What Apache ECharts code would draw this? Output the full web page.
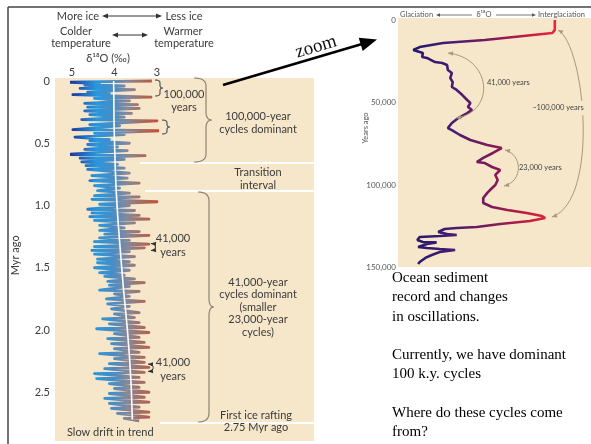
<!DOCTYPE html>
<html><head><meta charset="utf-8">
<script src="https://cdn.jsdelivr.net/npm/echarts@6/dist/echarts.min.js"></script>
<style>html,body{margin:0;padding:0;background:#fff}#c{width:591px;height:444px}</style>
</head><body><div id="c"></div>
<script>
// ---- Left panel: benthic δ18O record (Myr ago vs ‰) ----
const ageMyr = [0.00,0.01,0.02,0.03,0.04,0.06,0.07,0.09,0.10,0.11,0.13,0.14,0.16,0.18,0.19,0.21,0.22,0.24,0.26,0.27,0.29,0.31,0.32,0.35,0.36,0.39,0.40,0.42,0.43,0.45,0.47,0.48,0.50,0.51,0.53,0.55,0.56,0.59,0.60,0.62,0.63,0.65,0.67,0.68,0.70,0.71,0.74,0.76,0.78,0.80,0.82,0.84,0.86,0.88,0.90,0.92,0.93,0.95,0.97,0.99,1.00,1.03,1.04,1.06,1.08,1.09,1.11,1.12,1.14,1.16,1.18,1.20,1.21,1.23,1.24,1.26,1.28,1.29,1.31,1.33,1.34,1.36,1.37,1.39,1.41,1.43,1.45,1.46,1.48,1.50,1.52,1.54,1.56,1.57,1.59,1.61,1.62,1.64,1.65,1.68,1.69,1.71,1.73,1.75,1.77,1.79,1.81,1.83,1.86,1.87,1.90,1.91,1.94,1.95,1.98,1.99,2.02,2.03,2.06,2.07,2.10,2.11,2.14,2.15,2.18,2.19,2.22,2.23,2.26,2.27,2.30,2.31,2.34,2.35,2.38,2.39,2.42,2.43,2.46,2.47,2.50,2.51,2.54,2.55,2.58,2.59,2.62,2.63,2.66,2.67,2.70,2.71,2.73];
const d18O = [3.12,5.09,4.35,4.70,3.77,4.81,3.53,4.63,4.12,4.98,3.14,4.47,3.65,4.70,3.46,4.63,3.42,4.70,3.60,4.58,3.77,4.77,3.00,4.58,3.88,4.98,2.91,4.47,3.77,4.93,4.12,4.58,3.65,4.63,3.93,4.70,3.70,5.14,3.28,4.81,3.77,4.77,3.93,4.67,3.77,4.63,3.65,4.53,3.70,4.58,3.42,4.47,3.88,4.40,3.65,4.47,3.42,4.53,3.00,4.35,3.65,4.63,3.53,4.53,3.42,4.58,3.19,4.47,3.53,4.35,3.77,4.35,3.42,4.23,3.19,4.35,3.65,4.47,3.19,4.47,3.30,4.53,3.65,4.47,3.53,4.40,3.65,4.40,3.53,4.47,3.65,4.35,3.77,4.23,3.53,4.16,3.30,4.12,3.65,4.35,3.42,4.00,3.65,4.19,3.30,4.16,3.65,4.07,3.42,4.00,3.53,4.28,3.42,4.12,3.30,4.42,3.19,4.00,3.42,4.16,3.30,4.07,3.19,4.00,3.42,4.35,3.30,4.00,3.30,4.12,3.19,4.23,3.30,4.47,3.42,4.42,3.30,4.12,3.42,4.00,3.19,4.12,3.30,4.23,3.19,4.12,3.42,4.07,3.19,3.93,3.19,3.77,3.42];
const trendAge = [0, 0.72, 1.46, 2.20, 2.72];
const trendD18O = [4.02, 3.98, 3.84, 3.65, 3.58];
const leftTicks = [5, 4, 3];

// ---- Right panel: last 150,000 years ----
const zoomYears = [0,6000,7900,12100,13900,16400,18200,20000,22400,23000,25500,26100,27300,30300,32100,35200,37600,40600,42400,45500,48500,50300,52700,54500,56400,59400,62400,65500,66700,69700,72700,75800,77600,80600,83600,86100,86700,89100,90900,93900,97000,100000,101800,104800,107900,110900,113300,115200,117000,118800,120000,121800,123600,125500,126100,126700,128500,129700,130300,130900,131500,133300,134500,134800,135800,137600,138200,138800,139400,140600,142400,144200,146700,147900];
const zoomD18O = [3.45,3.45,3.48,4.32,4.84,5.13,5.21,5.09,5.10,5.04,4.94,4.85,4.79,4.78,4.73,4.75,4.72,4.73,4.67,4.60,4.54,4.50,4.53,4.48,4.54,4.65,4.73,4.78,4.73,4.63,4.50,4.29,4.11,4.22,4.34,4.42,4.32,4.23,4.13,4.19,4.16,4.19,4.23,4.29,4.34,4.34,4.23,4.04,3.80,3.61,3.57,3.76,4.13,4.42,4.67,4.82,4.90,4.79,4.67,4.88,5.13,5.16,5.09,4.92,5.04,5.15,5.04,4.88,4.69,4.88,4.98,5.06,5.13,5.15];

const chart = echarts.init(document.getElementById('c'), null, {renderer: 'canvas'});

const SANS = 'Lato, "Open Sans", sans-serif';
const SERIF = '"Liberation Serif", "Times New Roman", serif';
const TXT = '#3b3b3b';
const ARC = '#a8987a';

function txt(x, y, text, opts) {
  opts = opts || {};
  return {type: 'text', x: x, y: y, z: 5, rotation: opts.rotation || 0, silent: true,
    style: {text: text, font: opts.font || ('11px ' + SANS), fill: opts.fill || TXT,
      align: opts.align || 'center', verticalAlign: opts.va || 'middle',
      textAlign: opts.align || 'center', textVerticalAlign: opts.va || 'middle',
      lineHeight: opts.lh || 12.5, backgroundColor: opts.bg || null, padding: opts.pad || 0}};
}
function line(x1, y1, x2, y2, color, w, z) {
  return {type: 'line', z: z || 5, silent: true, shape: {x1: x1, y1: y1, x2: x2, y2: y2},
    style: {stroke: color, lineWidth: w}};
}
function head(tx, ty, dx, dy, len, half, color) {
  const L = Math.hypot(dx, dy), ux = dx / L, uy = dy / L;
  const bx = tx - ux * len, by = ty - uy * len;
  return {type: 'polygon', z: 5, silent: true,
    shape: {points: [[tx, ty], [bx - uy * half, by + ux * half], [bx + uy * half, by - ux * half]]},
    style: {fill: color}};
}
function dblArrow(x1, x2, y, color) {
  return [line(x1 + 4, y, x2 - 4, y, color, 1),
    head(x1, y, -1, 0, 6, 2.5, color), head(x2, y, 1, 0, 6, 2.5, color)];
}
function brace(xs, y1, y2, curl, cusp, r, color, w) {
  const pts = [];
  function quad(p0, c, p1) {
    for (let i = 0; i <= 10; i++) {
      const t = i / 10, a = (1 - t) * (1 - t), b = 2 * (1 - t) * t, d = t * t;
      pts.push([a * p0[0] + b * c[0] + d * p1[0], a * p0[1] + b * c[1] + d * p1[1]]);
    }
  }
  const ym = (y1 + y2) / 2;
  quad([xs - curl, y1], [xs, y1], [xs, y1 + r]);
  quad([xs, ym - r], [xs, ym], [xs + cusp, ym]);
  quad([xs + cusp, ym], [xs, ym], [xs, ym + r]);
  quad([xs, y2 - r], [xs, y2], [xs - curl, y2]);
  return {type: 'polyline', z: 5, silent: true, shape: {points: pts},
    style: {stroke: color, lineWidth: w, fill: null}};
}
function arc(x1, y1, c1x, c1y, c2x, c2y, x2, y2, color) {
  return [{type: 'bezierCurve', z: 5, silent: true,
      shape: {x1: x1, y1: y1, cpx1: c1x, cpy1: c1y, cpx2: c2x, cpy2: c2y, x2: x2, y2: y2},
      style: {stroke: color, lineWidth: 1, fill: null}},
    head(x1, y1, x1 - c1x, y1 - c1y, 5, 2.2, color),
    head(x2, y2, x2 - c2x, y2 - c2y, 5, 2.2, color)];
}

const graphics = [];
// slide frame
graphics.push(line(8, 7, 591, 7, '#444', 1.5, 1));
graphics.push(line(8, 7, 8, 444, '#444', 1.5, 1));
// panel backgrounds
graphics.push({type: 'rect', z: 0, silent: true, shape: {x: 55, y: 78, width: 259, height: 363}, style: {fill: '#f6e7cb'}});
graphics.push({type: 'rect', z: 0, silent: true, shape: {x: 398, y: 18, width: 193, height: 249}, style: {fill: '#f6e7cb'}});
// white division lines
graphics.push(line(140, 163, 314, 163, '#ffffff', 2, 3));
graphics.push(line(145, 191, 314, 191, '#ffffff', 2, 3));
graphics.push(line(160, 423, 314, 423, '#ffffff', 2, 3));

// header of left panel
graphics.push(txt(78, 16, 'More ice'));
graphics.push(...dblArrow(102, 162, 16, '#333'));
graphics.push(txt(184, 16, 'Less ice'));
graphics.push(txt(76, 31, 'Colder'));
graphics.push(txt(81, 43, 'temperature'));
graphics.push(...dblArrow(112, 148, 35, '#333'));
graphics.push(txt(183, 31, 'Warmer'));
graphics.push(txt(184, 43, 'temperature'));
graphics.push(txt(108, 58, 'δ¹⁸O (‰)'));

// annotations in left panel
graphics.push(brace(160, 80, 96, 5, 3, 3, '#555', 1.2));
graphics.push(brace(167, 120, 134, 5, 3, 3, '#555', 1.2));
graphics.push(txt(184, 101, '100,000\nyears', {lh: 12.5}));
graphics.push(brace(206, 78, 162, 12, 6, 8, '#8c8372', 1.2));
graphics.push(txt(258, 123, '100,000-year\ncycles dominant', {lh: 12.5}));
graphics.push(txt(258, 178.5, 'Transition\ninterval', {lh: 13}));
graphics.push(brace(209, 192, 422, 11, 5, 9, '#8c8372', 1.2));
graphics.push(txt(258, 307, '41,000-year\ncycles dominant\n(smaller\n23,000-year\ncycles)', {lh: 12.5}));
graphics.push(txt(256, 421, 'First ice rafting\n2.75 Myr ago', {lh: 12}));
graphics.push(txt(173, 245, '41,000\nyears', {lh: 14}));
graphics.push(txt(173, 369, '41,000\nyears', {lh: 14}));
graphics.push(...arc(151, 243.5, 157, 244, 157, 250, 151, 250.5, '#333'));
graphics.push(...arc(148, 364, 155, 364.5, 155, 371, 148, 371.5, '#333'));
graphics.push(txt(67, 432, 'Slow drift in trend', {align: 'left'}));

// zoom arrow
graphics.push(line(223, 85, 362, 44, '#000', 2.6, 5));
graphics.push(head(377, 39.5, 154, -46, 17, 7, '#000'));
graphics.push(txt(316, 47, 'zoom', {font: '19px ' + SERIF, fill: '#111', rotation: 0.29}));

// right panel header
graphics.push(txt(400, 15, 'Glaciation', {align: 'left', font: '7.5px ' + SANS, fill: '#555'}));
graphics.push(line(438, 15, 472, 15, '#555', 0.8));
graphics.push(head(436, 15, -1, 0, 4, 1.8, '#555'));
graphics.push(txt(484, 15, 'δ¹⁸O', {font: '7.5px ' + SANS, fill: '#555'}));
graphics.push(line(496, 15, 532, 15, '#555', 0.8));
graphics.push(head(536, 15, 1, 0, 4, 1.8, '#555'));
graphics.push(txt(538, 15, 'Interglaciation', {align: 'left', font: '7.5px ' + SANS, fill: '#555'}));
graphics.push(txt(366, 128, 'Years ago', {font: '7.5px ' + SANS, fill: '#555', rotation: Math.PI / 2}));

// right panel arcs
graphics.push(...arc(448, 53, 492, 58, 496, 112, 456, 118, ARC));
graphics.push(txt(487, 83, '41,000 years', {align: 'left', font: '7.5px ' + SANS, fill: '#444'}));
graphics.push(...arc(558, 30, 585, 45, 600, 200, 552, 217, ARC));
graphics.push(txt(558, 108, '~100,000 years', {font: '7.5px ' + SANS, fill: '#444', bg: '#f6e7cb', pad: [1, 1]}));
graphics.push(...arc(505, 150, 522, 154, 524, 181, 504, 186, ARC));
graphics.push(txt(519, 168, '23,000 years', {align: 'left', font: '7.5px ' + SANS, fill: '#444'}));

// slide text
graphics.push(txt(392, 268.4,
  'Ocean sediment\nrecord and changes\nin oscillations.\n\nCurrently, we have dominant\n100 k.y. cycles\n\nWhere do these cycles come\nfrom?',
  {align: 'left', va: 'top', font: '15px ' + SERIF, fill: '#000', lh: 19.3}));

const leftGrad = {type: 'linear', x: 0, y: 0, x2: 1, y2: 0, colorStops: [
  {offset: 0, color: '#1b1f78'}, {offset: 0.15, color: '#1f56b4'}, {offset: 0.33, color: '#2a97dc'},
  {offset: 0.5, color: '#4a8cc4'}, {offset: 0.64, color: '#86889a'}, {offset: 0.8, color: '#a96a5c'},
  {offset: 1, color: '#d2412c'}]};
const rightGrad = {type: 'linear', x: 0, y: 0, x2: 1, y2: 0, colorStops: [
  {offset: 0, color: '#22186c'}, {offset: 0.3, color: '#4a1c74'}, {offset: 0.55, color: '#7e1a58'},
  {offset: 0.8, color: '#c31d3e'}, {offset: 1, color: '#ea2a38'}]};

const option = {
  animation: false,
  backgroundColor: '#ffffff',
  grid: [
    {left: 72, top: 81, width: 85, height: 348.6},
    {left: 398, top: 20, width: 193, height: 247.5}
  ],
  xAxis: [
    {gridIndex: 0, type: 'value', position: 'top', min: 3, max: 5, interval: 1, inverse: true,
      axisLine: {show: false}, axisTick: {show: false}, splitLine: {show: false},
      axisLabel: {margin: 3, color: '#3b3b3b', fontFamily: 'Lato', fontSize: 11,
        formatter: v => leftTicks.includes(v) ? String(v) : ''}},
    {gridIndex: 1, type: 'value', min: 3.0, max: 5.4, inverse: true, show: false}
  ],
  yAxis: [
    {gridIndex: 0, type: 'value', min: 0, max: 2.8, interval: 0.5, inverse: true,
      name: 'Myr ago', nameLocation: 'middle', nameGap: 51, nameRotate: 90,
      nameTextStyle: {color: '#3b3b3b', fontFamily: 'Lato', fontSize: 11},
      axisLine: {show: false}, axisTick: {show: false}, splitLine: {show: false},
      axisLabel: {margin: 22, color: '#3b3b3b', fontFamily: 'Lato', fontSize: 11, showMaxLabel: false,
        formatter: v => v === 0 ? '0' : v.toFixed(1)}},
    {gridIndex: 1, type: 'value', min: 0, max: 150000, interval: 50000, inverse: true,
      axisLine: {show: false}, axisTick: {show: false}, splitLine: {show: false},
      axisLabel: {margin: 2, color: '#555', fontFamily: 'Lato', fontSize: 8,
        formatter: v => v.toLocaleString('en-US')}}
  ],
  series: [
    {type: 'line', xAxisIndex: 0, yAxisIndex: 0, z: 2, clip: false, symbol: 'none', silent: true,
      data: ageMyr.map((a, i) => [d18O[i], a]),
      lineStyle: {width: 2.8, color: leftGrad, join: 'round'}},
    {type: 'line', xAxisIndex: 0, yAxisIndex: 0, z: 4, clip: false, symbol: 'none', silent: true, smooth: true,
      data: trendAge.map((a, i) => [trendD18O[i], a]),
      lineStyle: {width: 1.6, color: '#ffffff'}},
    {type: 'line', xAxisIndex: 1, yAxisIndex: 1, z: 2, clip: false, symbol: 'none', silent: true,
      data: zoomYears.map((y, i) => [zoomD18O[i], y]),
      lineStyle: {width: 2.6, color: rightGrad}}
  ],
  graphic: {elements: graphics}
};
chart.setOption(option);
</script>
</body></html>
